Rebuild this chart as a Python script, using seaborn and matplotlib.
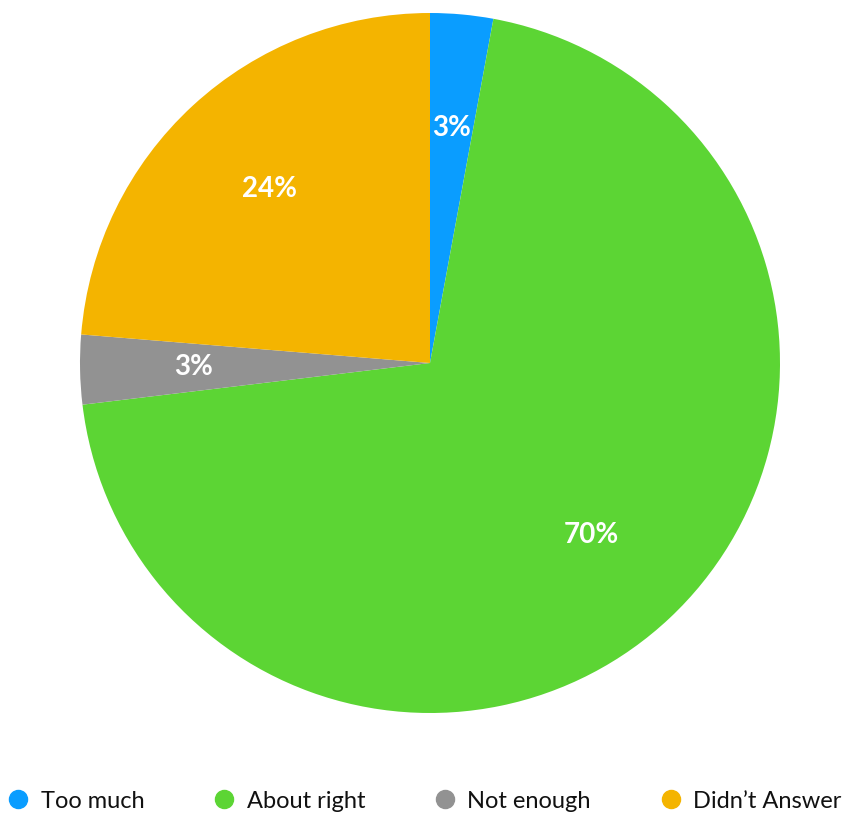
import matplotlib
matplotlib.use("Agg")
import matplotlib.pyplot as plt
from matplotlib.lines import Line2D
import seaborn as sns

# Pie data (clockwise from 12 o'clock), percent of responses
categories = ["Too much", "About right", "Not enough", "Didn\u2019t Answer"]
shares = [2.9, 70.2, 3.2, 23.7]
colors = ["#0A9DFF", "#5CD534", "#929292", "#F4B400"]

sns.set_theme(style="white")
plt.rcParams["font.family"] = ["Lato", "DejaVu Sans"]

fig = plt.figure(figsize=(8.47, 8.16), dpi=100)
ax = fig.add_axes([80 / 847, 103 / 816, 700 / 847, 700 / 816])

wedges, texts, autotexts = ax.pie(
    shares,
    colors=colors,
    startangle=90,
    counterclock=False,
    autopct="%.0f%%",
    pctdistance=0.675,
    radius=1.0,
    wedgeprops=dict(linewidth=0),
)
for t in autotexts:
    t.set_color("white")
    t.set_fontsize(20)
    t.set_fontweight("bold")
ax.set_xlim(-1, 1)
ax.set_ylim(-1, 1)
ax.set_aspect("equal")

# legend along the bottom
handles = [Line2D([0], [0], marker="o", linestyle="", markersize=13,
                  markerfacecolor=c, markeredgecolor=c) for c in colors]
leg = fig.legend(handles, categories, loc="center", bbox_to_anchor=(0.5007, 15 / 816),
                 ncol=4, frameon=False, fontsize=17, handletextpad=0.45,
                 columnspacing=2.88, handlelength=1.0, borderpad=0.1)
for t in leg.get_texts():
    t.set_color("#111111")

fig.savefig("out.png", dpi=100)
